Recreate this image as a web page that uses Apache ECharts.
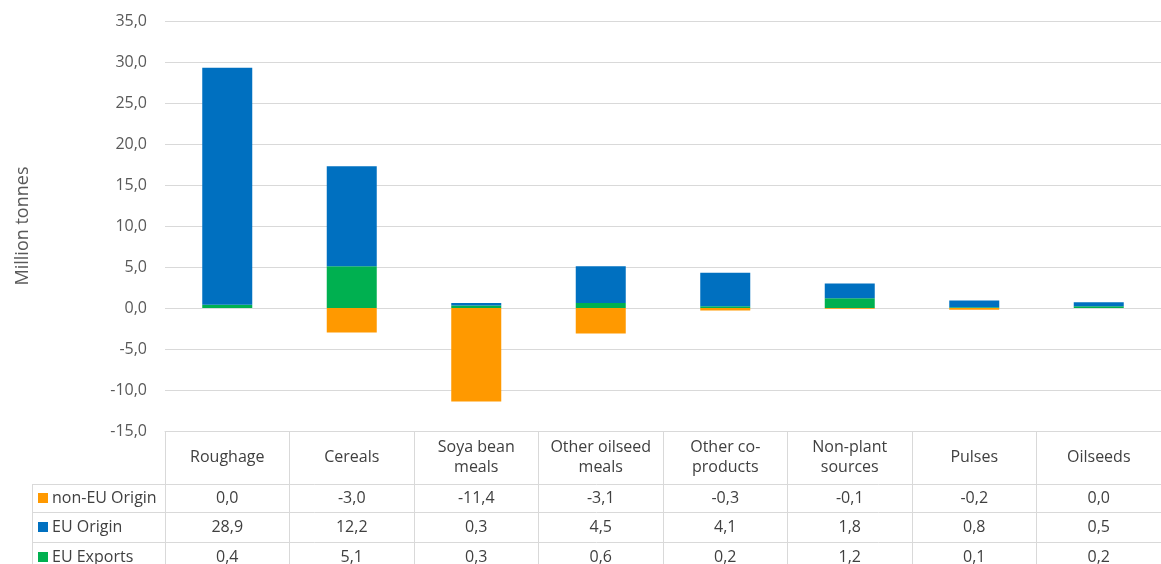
<!DOCTYPE html>
<html><head><meta charset="utf-8">
<script src="https://cdn.jsdelivr.net/npm/echarts@6/dist/echarts.min.js"></script>
<style>html,body{margin:0;padding:0;background:#fff}#c{width:1161px;height:564px}</style>
</head><body><div id="c"></div>
<script>
const categories = ['Roughage','Cereals','Soya bean\nmeals','Other oilseed\nmeals','Other co-\nproducts','Non-plant\nsources','Pulses','Oilseeds'];
const nonEUOrigin = [0.0,-3.0,-11.4,-3.1,-0.3,-0.1,-0.2,0.0];
const euOrigin = [28.9,12.2,0.3,4.5,4.1,1.8,0.8,0.5];
const euExports = [0.4,5.1,0.3,0.6,0.2,1.2,0.1,0.2];
const yTicks = {min:-15,max:35,interval:5};
const rows = [
  {name:'non-EU Origin', color:'#FF9900', data:nonEUOrigin},
  {name:'EU Origin', color:'#0070C0', data:euOrigin},
  {name:'EU Exports', color:'#00B050', data:euExports}
];
const fmt = v => v.toFixed(1).replace('.', ',');
const FONT = 'Open Sans';
const FS = 16;
const chart = echarts.init(document.getElementById('c'));
const gridTop = 21, gridBottom = 133, gridLeft = 165;
chart.setOption({
  animation:false,
  textStyle:{fontFamily:FONT},
  grid:{left:gridLeft, top:gridTop, bottom:gridBottom, width:1006},
  xAxis:{type:'category', data:categories, boundaryGap:true,
    axisLine:{show:true, onZero:false, lineStyle:{color:'#d9d9d9', width:1}},
    axisTick:{show:true, interval:0, length:133, lineStyle:{color:'#d9d9d9', width:1}},
    axisLabel:{interval:0, margin:26, verticalAlign:'middle', fontSize:FS, lineHeight:20, color:'#404040', fontFamily:FONT}
  },
  yAxis:{type:'value', min:yTicks.min, max:yTicks.max, interval:yTicks.interval,
    name:'Million tonnes', nameLocation:'middle', nameGap:133, nameRotate:90,
    nameTextStyle:{fontSize:18, color:'#595959', fontFamily:FONT},
    axisLine:{show:false}, axisTick:{show:false},
    axisLabel:{formatter:fmt, fontSize:FS, color:'#595959', margin:18, fontFamily:FONT},
    splitLine:{lineStyle:{color:'#d9d9d9', width:1}}
  },
  series:[
    {name:'EU Exports', type:'bar', stack:'a', data:euExports, barWidth:50, itemStyle:{color:'#00B050'}},
    {name:'EU Origin', type:'bar', stack:'a', data:euOrigin, barWidth:50, itemStyle:{color:'#0070C0'}},
    {name:'non-EU Origin', type:'bar', stack:'a', data:nonEUOrigin, barWidth:50, itemStyle:{color:'#FF9900'}}
  ]
});
// data table below the axis
const g = [];
const lineStyle = {stroke:'#d9d9d9', lineWidth:1};
const rowTops = [484, 512, 542];
const rowH = [28, 30, 30];
rowTops.forEach(y => g.push({type:'line', shape:{x1:32, y1:y+0.5, x2:1161, y2:y+0.5}, style:lineStyle, silent:true}));
g.push({type:'line', shape:{x1:32.5, y1:484, x2:32.5, y2:564}, style:lineStyle, silent:true});
rows.forEach((r, ri) => {
  const cy = rowTops[ri] + rowH[ri]/2 ;
  g.push({type:'rect', shape:{x:38, y:cy-5, width:10, height:10}, style:{fill:r.color}, silent:true});
  g.push({type:'text', x:52, y:cy, style:{text:r.name, fontSize:FS, fill:'#404040', fontFamily:FONT, verticalAlign:'middle', align:'left'}, silent:true});
  r.data.forEach((v, i) => {
    const px = chart.convertToPixel({xAxisIndex:0}, i);
    g.push({type:'text', x:px, y:cy, style:{text:fmt(v), fontSize:FS, fill:'#404040', fontFamily:FONT, verticalAlign:'middle', align:'center'}, silent:true});
  });
});
chart.setOption({graphic:g});
</script></body></html>
